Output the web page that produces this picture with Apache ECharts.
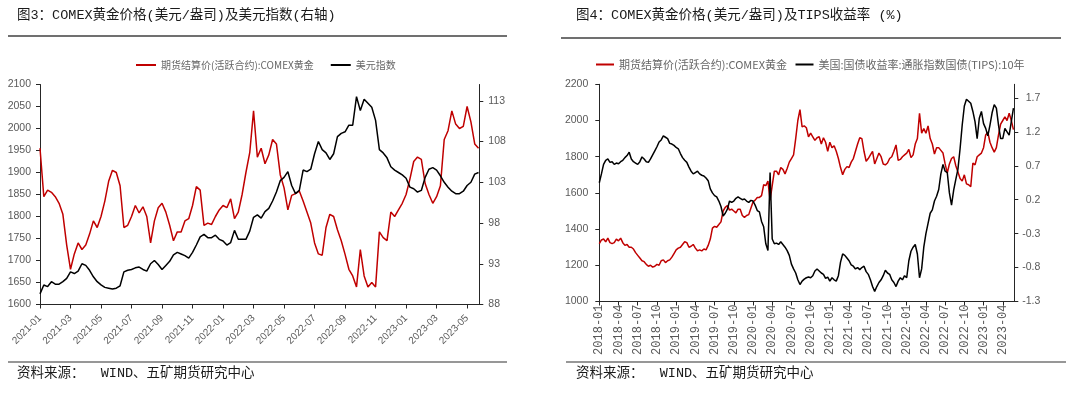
<!DOCTYPE html>
<html><head><meta charset="utf-8">
<script src="https://cdn.jsdelivr.net/npm/echarts@6/dist/echarts.min.js"></script>
<style>html,body{margin:0;padding:0;background:#fff}#c{width:1080px;height:396px}</style>
</head><body><div id="c"></div>
<script>
// ---------- Chart 1 (图3) : 4 samples per month ----------
const months1 = ['2021-01','2021-02','2021-03','2021-04','2021-05','2021-06','2021-07','2021-08','2021-09','2021-10','2021-11','2021-12',
  '2022-01','2022-02','2022-03','2022-04','2022-05','2022-06','2022-07','2022-08','2022-09','2022-10','2022-11','2022-12',
  '2023-01','2023-02','2023-03','2023-04','2023-05'];
const gold1 = [
  1955,1845,1860,1855, 1845,1830,1805,1735, 1680,1715,1740,1725, 1735,1760,1790,1775,
  1800,1835,1880,1905, 1900,1870,1775,1780, 1800,1825,1808,1822, 1800,1740,1790,1820,
  1830,1810,1780,1745, 1765,1765,1790,1795, 1825,1868,1860,1780, 1785,1782,1800,1815,
  1825,1820,1840,1795, 1810,1850,1900,1945, 2040,1935,1955,1920, 1940,1975,1965,1895,
  1865,1815,1848,1852, 1858,1835,1810,1785, 1740,1715,1712,1775, 1805,1800,1770,1745,
  1714,1680,1665,1640, 1725,1665,1640,1650, 1640,1765,1752,1745, 1810,1800,1815,1830,
  1850,1885,1925,1935, 1930,1875,1850,1830, 1845,1870,1975,1995, 2040,2010,2000,2005,
  2050,2015,1965,1955];
const dxy1 = [
  89.3,90.4,90.2,90.8, 90.5,90.5,90.8,91.2, 92.0,91.8,92.1,93.0, 92.8,92.2,91.4,90.8,
  90.4,90.1,90.0,89.9, 90.0,90.3,92.0,92.2, 92.3,92.5,92.6,92.3, 92.1,93.0,93.4,92.9,
  92.3,92.8,93.3,94.1, 94.4,94.2,94.0,93.7, 94.4,95.3,96.3,96.6, 96.2,96.2,96.5,96.0,
  95.8,95.3,95.6,97.1, 96.0,96.0,96.0,97.0, 98.7,99.0,98.6,99.4, 99.8,100.7,101.8,103.2,
  103.6,104.3,102.6,101.6, 102.0,104.5,104.3,104.6, 106.5,108.0,107.0,106.6, 105.8,106.5,108.6,109.0,
  109.2,110.0,110.0,113.5, 111.8,113.2,112.7,112.2, 110.6,107.0,106.6,106.0, 104.9,104.5,104.2,103.9,
  103.5,102.4,102.2,101.8, 102.0,103.6,104.6,104.8, 104.5,103.8,103.0,102.4, 101.9,101.6,101.6,101.9,
  102.6,103.0,104.0,104.2];
const yTicksL1 = [1600,1650,1700,1750,1800,1850,1900,1950,2000,2050,2100];
const yTicksR1 = [88,93,98,103,108,113];
const xTicks1 = [0,2,4,6,8,10,12,14,16,18,20,22,24,26,28];

// ---------- Chart 2 (图4) : 3 samples per month ----------
const months2 = [];
['2018','2019','2020','2021','2022','2023'].forEach(y => ['01','02','03','04','05','06','07','08','09','10','11','12'].forEach(m => months2.push(y + '-' + m)));
months2.length = 65; // 2018-01 .. 2023-05
const gold2 = [
  1320,1340,1345, 1330,1350,1325, 1320,1325,1345, 1335,1350,1325, 1310,1315,1300, 1300,1290,1270,
  1255,1240,1225, 1220,1205,1195, 1200,1190,1195, 1205,1200,1225, 1230,1215,1225, 1230,1245,1265,
  1285,1295,1300, 1315,1330,1325, 1300,1305,1315, 1295,1280,1285, 1280,1290,1285, 1310,1345,1405,
  1415,1410,1425, 1440,1500,1520, 1530,1505,1510, 1500,1490,1510, 1510,1475,1465, 1475,1480,1515,
  1550,1560,1575, 1575,1585,1645, 1640,1665,1560, 1640,1720,1720, 1700,1740,1730, 1705,1735,1770,
  1790,1810,1900, 2000,2060,1965, 1970,1960,1910, 1930,1910,1890, 1905,1910,1870, 1905,1880,1830,
  1880,1850,1860, 1830,1790,1740, 1700,1730,1745, 1740,1770,1790, 1830,1870,1905, 1900,1830,1775,
  1790,1810,1830, 1760,1790,1820, 1800,1760,1755, 1765,1790,1800, 1830,1865,1780, 1785,1800,1810,
  1820,1840,1795, 1810,1870,1900, 2040,1930,1955, 1930,1970,1900, 1870,1815,1850, 1850,1835,1820,
  1760,1710,1760, 1790,1800,1750, 1715,1680,1665, 1700,1650,1645, 1635,1765,1755, 1800,1810,1820,
  1850,1920,1935, 1880,1850,1825, 1850,1920,1980, 2000,2020,2000, 2040,2000,1950];
const tips2 = [
  0.45,0.58,0.72, 0.78,0.80,0.75, 0.76,0.72,0.74, 0.73,0.76,0.78, 0.82,0.85,0.90, 0.80,0.76,0.74,
  0.72,0.76,0.83, 0.80,0.76,0.75, 0.80,0.86,0.92, 0.98,1.05,1.08, 1.14,1.12,1.10, 1.03,1.02,1.00,
  0.97,0.95,0.88, 0.82,0.78,0.75, 0.68,0.62,0.58, 0.60,0.62,0.58, 0.56,0.55,0.52, 0.48,0.36,0.30,
  0.26,0.24,0.18, 0.10,-0.04,0.00, 0.06,0.18,0.16, 0.18,0.22,0.24, 0.22,0.20,0.21, 0.18,0.16,0.19,
  0.18,0.12,0.04, 0.02,-0.12,-0.20, -0.45,-0.55,0.60, -0.38,-0.45,-0.44, -0.46,-0.42,-0.46, -0.50,-0.55,-0.62,
  -0.75,-0.82,-0.88, -0.98,-1.05,-1.00, -0.97,-0.95,-0.94, -0.95,-0.92,-0.85, -0.82,-0.85,-0.88, -0.90,-0.96,-0.94,
  -1.00,-0.95,-0.98, -1.00,-0.92,-0.72, -0.60,-0.62,-0.66, -0.70,-0.76,-0.78, -0.82,-0.80,-0.83, -0.80,-0.78,-0.86,
  -0.90,-0.98,-1.08, -1.15,-1.08,-1.02, -0.98,-0.92,-0.84, -0.88,-0.90,-0.98, -1.02,-1.08,-1.00, -0.95,-0.98,-0.92,
  -0.95,-0.70,-0.56, -0.50,-0.46,-0.60, -0.95,-0.82,-0.50, -0.30,-0.15,0.00, 0.05,0.18,0.25, 0.35,0.58,0.72,
  0.62,0.60,0.30, 0.12,0.34,0.50, 0.65,0.95,1.30, 1.58,1.68,1.65, 1.62,1.50,1.35, 1.10,1.40,1.50,
  1.32,1.25,1.14, 1.30,1.48,1.60, 1.55,1.30,1.10, 1.10,1.25,1.20, 1.15,1.35,1.55];
const yTicksL2 = [1000,1200,1400,1600,1800,2000,2200];
const yTicksR2 = [-1.3,-0.8,-0.3,0.2,0.7,1.2,1.7];
const xTicks2 = [0,3,6,9,12,15,18,21,24,27,30,33,36,39,42,45,48,51,54,57,60,63];

const NAME_GOLD = '期货结算价(活跃合约):COMEX黄金';
const NAME_DXY = '美元指数';
const NAME_TIPS = '美国:国债收益率:通胀指数国债(TIPS):10年';

const RED = '#C00000', BLACK = '#000000', AXIS = '#262626', LBL = '#595959';
const CJK = '"Liberation Mono","Noto Sans CJK SC",monospace';
const SANS = '"Liberation Sans",Arial,sans-serif';

function yAxis(gi, min, max, ticks, pos, margin, fmt, align) {
  return {
    type: 'value', gridIndex: gi, position: pos, min: min, max: max,
    splitLine: { show: false },
    axisLine: { show: true, lineStyle: { color: AXIS, width: 1 } },
    axisTick: { show: true, inside: false, length: 4, customValues: ticks, lineStyle: { color: AXIS } },
    axisLabel: { customValues: ticks, color: LBL, fontSize: 10.5, fontFamily: SANS, margin: margin,
      formatter: fmt, align: align }
  };
}
function xAxis(gi, max, ticks, labels, rotate, margin, font, size) {
  return {
    type: 'value', gridIndex: gi, min: 0, max: max,
    splitLine: { show: false },
    axisLine: { show: true, onZero: false, lineStyle: { color: AXIS, width: 1 } },
    axisTick: { show: true, length: 4, customValues: ticks, lineStyle: { color: AXIS } },
    axisLabel: { customValues: ticks, rotate: rotate, margin: margin, color: LBL, fontSize: size, fontFamily: font,
      formatter: v => labels[Math.round(v)] || '' }
  };
}

const chart = echarts.init(document.getElementById('c'), null, { renderer: 'canvas' });
chart.setOption({
  backgroundColor: '#ffffff',
  animation: false,
  grid: [
    { left: 40, top: 84.5, width: 439.3, height: 220 },
    { left: 599.3, top: 84.3, width: 415, height: 217.2 }
  ],
  xAxis: [
    xAxis(0, 28.8, xTicks1, months1, 45, 12, SANS, 10),
    xAxis(1, 64.8, xTicks2, months2, 90, 3, '"Liberation Mono",monospace', 12)
  ],
  yAxis: [
    yAxis(0, 1600, 2100, yTicksL1, 'left', 9, v => String(v)),
    yAxis(0, 88, 115, yTicksR1, 'right', 9, v => String(v)),
    yAxis(1, 1000, 2200, yTicksL2, 'left', 11, v => String(v)),
    yAxis(1, -1.3, 1.9, yTicksR2, 'right', 26, v => v.toFixed(1), 'right')
  ],
  legend: [
    { left: 131, top: 55, icon: 'rect', itemWidth: 20, itemHeight: 2, itemGap: 17,
      textStyle: { color: '#666', fontSize: 10, fontFamily: '"Noto Sans CJK SC",sans-serif' },
      data: [{ name: NAME_GOLD, itemStyle: { color: RED } }, { name: NAME_DXY, itemStyle: { color: BLACK } }] },
    { left: 591, top: 54, icon: 'rect', itemWidth: 18, itemHeight: 2, itemGap: 6,
      textStyle: { color: '#666', fontSize: 11, fontFamily: '"Noto Sans CJK SC",sans-serif' },
      data: [{ name: NAME_GOLD + ' ', itemStyle: { color: RED } }, { name: NAME_TIPS, itemStyle: { color: BLACK } }] }
  ],
  series: [
    { name: NAME_GOLD, type: 'line', xAxisIndex: 0, yAxisIndex: 0, symbol: 'none', color: RED,
      lineStyle: { color: RED, width: 1.5 }, data: gold1.map((v, i) => [i / 4, v]) },
    { name: NAME_DXY, type: 'line', xAxisIndex: 0, yAxisIndex: 1, symbol: 'none', color: BLACK,
      lineStyle: { color: BLACK, width: 1.5 }, data: dxy1.map((v, i) => [i / 4, v]) },
    { name: NAME_GOLD + ' ', type: 'line', xAxisIndex: 1, yAxisIndex: 2, symbol: 'none', color: RED,
      lineStyle: { color: RED, width: 1.5 }, data: gold2.map((v, i) => [i / 3, v]) },
    { name: NAME_TIPS, type: 'line', xAxisIndex: 1, yAxisIndex: 3, symbol: 'none', color: BLACK,
      lineStyle: { color: BLACK, width: 1.5 }, data: tips2.map((v, i) => [i / 3, v]) }
  ],
  graphic: [
    { type: 'text', left: 17, top: 9, style: { text: '图3：COMEX黄金价格(美元/盎司)及美元指数(右轴)', fill: '#1a1a1a', fontSize: 13.5, fontFamily: CJK } },
    { type: 'text', left: 576, top: 9, style: { text: '图4：COMEX黄金价格(美元/盎司)及TIPS收益率 (%)', fill: '#1a1a1a', fontSize: 13.5, fontFamily: CJK } },
    { type: 'line', shape: { x1: 8, y1: 36, x2: 507, y2: 36 }, style: { stroke: '#404040', lineWidth: 1.5 } },
    { type: 'line', shape: { x1: 561, y1: 38, x2: 1061, y2: 38 }, style: { stroke: '#404040', lineWidth: 1.5 } },
    { type: 'line', shape: { x1: 8, y1: 362, x2: 507, y2: 362 }, style: { stroke: '#303030', lineWidth: 1.2 } },
    { type: 'line', shape: { x1: 566, y1: 362, x2: 1066, y2: 362 }, style: { stroke: '#303030', lineWidth: 1.2 } },
    { type: 'text', left: 17, top: 367, style: { text: '资料来源：  WIND、五矿期货研究中心', fill: '#1a1a1a', fontSize: 13.5, fontFamily: CJK } },
    { type: 'text', left: 576, top: 367, style: { text: '资料来源：  WIND、五矿期货研究中心', fill: '#1a1a1a', fontSize: 13.5, fontFamily: CJK } }
  ]
});
</script>
</body></html>
